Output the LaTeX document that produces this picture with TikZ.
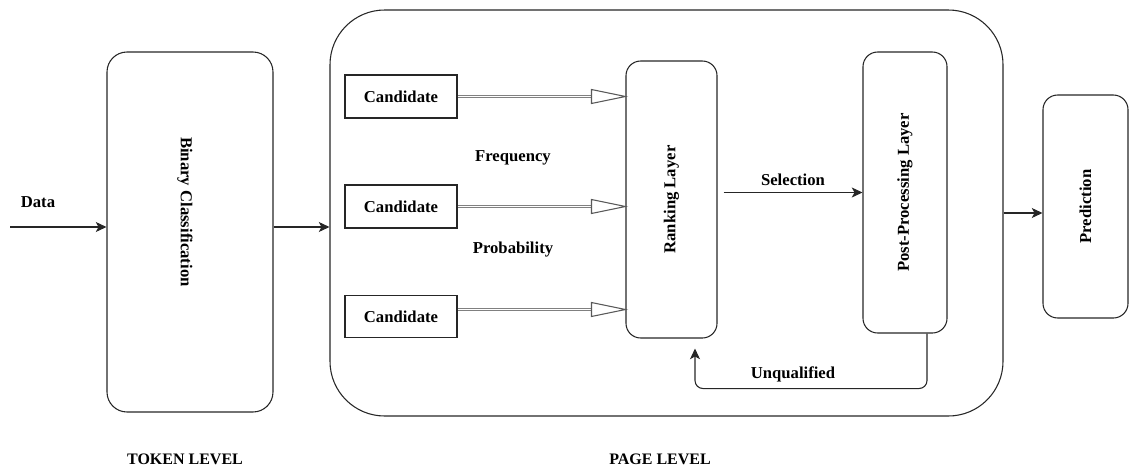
\documentclass[tikz,border=0pt]{standalone}
\usepackage{fontspec}
\setmainfont{Liberation Serif}
\usetikzlibrary{arrows.meta,calc}

\begin{document}
\begin{tikzpicture}[x=0.75pt,y=-0.75pt,
  every node/.style={font=\bfseries\fontsize{12.5}{15}\selectfont, inner sep=0pt},
  rbox/.style={draw=black!85, line width=0.8pt, rounded corners=#1},
  sbox/.style={draw=black!85, line width=0.8pt},
  arr/.style={draw=black!85, line width=0.8pt, -{Stealth[length=8pt,width=7.5pt,inset=2pt]}},
  dbl/.style={draw=black!50, line width=0.9pt, double=white, double distance=1.1pt},
  ohead/.style={draw=black!65, line width=0.8pt, fill=white, line join=miter}
]
  \useasboundingbox (0,0) rectangle (1131,468);

  % token level
  \node[rbox=15pt, minimum width=124.5pt, minimum height=270pt] (bin) at (190,232) {};
  \node[rotate=-90] (binlbl) at (185,212) {Binary Classification};

  % page level container
  \node[rbox=41pt, minimum width=504.75pt, minimum height=304.5pt] (page) at (666.5,213) {};

  % candidates
  \node[sbox, minimum width=84pt, minimum height=32.25pt] (c1) at (401,96.5) {Candidate};
  \node[sbox, minimum width=84pt, minimum height=32.25pt] (c2) at (401,206.5) {Candidate};
  \node[sbox, minimum width=84pt, minimum height=31pt] (c3) at (401,316.5) {Candidate};

  % layers
  \node[rbox=11pt, minimum width=68.25pt, minimum height=207.75pt] (rank) at (671.5,199.5) {};
  \node[rotate=90] (ranklbl) at (rank.center) {Ranking Layer};
  \node[rbox=11pt, minimum width=63pt, minimum height=210.75pt] (pp) at (905,192.5) {};
  \node[rotate=90] (pplbl) at (pp.center) {Post-Processing Layer};
  \node[rbox=11pt, minimum width=63.75pt, minimum height=167.25pt] (pred) at (1085.5,206.5) {};
  \node[rotate=90] (predlbl) at (pred.center) {Prediction};

  % input
  \coordinate (in) at (10,227);
  \node (data) at (38,202) {Data};
  \draw[arr] (in) -- (in -| bin.west);
  \draw[arr] (bin.east |- in) -- (in -| page.west);

  % candidate arrows (double shaft, open head)
  \coordinate (a1) at (c1.east);
  \coordinate (a2) at (c2.east);
  \coordinate (a3) at ($(c3.east)+(0,-7)$);
  \foreach \i in {1,2,3} {
    \coordinate (t\i) at (rank.west |- a\i);
    \draw[dbl] (a\i) -- ($(t\i)+(-34,0)$);
    \draw[ohead] ($(t\i)+(-34,-7)$) -- (t\i) -- ($(t\i)+(-34,7)$) -- cycle;
  }
  \node (freq) at (513,158) {Frequency};
  \node (prob) at (513,250) {Probability};

  % selection and feedback
  \draw[arr] ($(rank.east |- pp.west)+(6,0)$) -- (pp.west);
  \node (sel) at (793,180) {Selection};
  \draw[arr, rounded corners=6pt] ($(pp.south)+(22,0)$) -- ++(0,55) -| ($(rank.south)+(23.5,10)$);
  \node (unq) at (793,374) {Unqualified};

  % output
  \draw[arr] (page.east) -- (page.east -| pred.west);

  % level captions
  \node[font=\bfseries\fontsize{12}{14}\selectfont] (tok) at (185,459) {TOKEN LEVEL};
  \node[font=\bfseries\fontsize{12}{14}\selectfont] (pg) at (660,459) {PAGE LEVEL};
\end{tikzpicture}
\end{document}
